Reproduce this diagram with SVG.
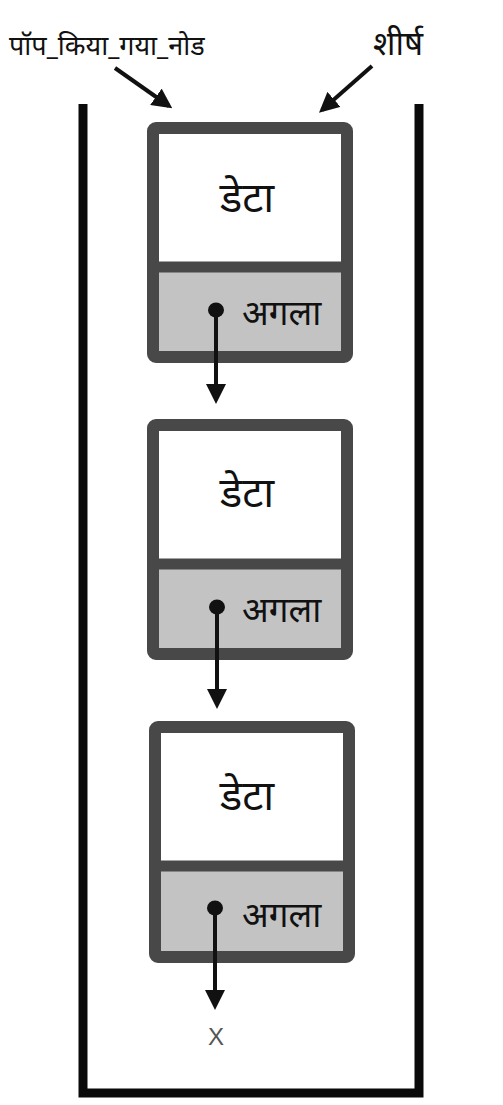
<svg xmlns="http://www.w3.org/2000/svg" width="503" height="1105" viewBox="0 0 503 1105">
<style>
.box{fill:#ffffff;stroke:#484848;stroke-width:12}
.next{fill:#c3c3c3}
.div{stroke:#484848;stroke-width:11}
.t{font-family:"Noto Sans Devanagari","Noto Sans","Lohit Devanagari","FreeSans",sans-serif;fill:#111}
.data{font-size:42px;text-anchor:middle}
.nx{font-size:35px}
.lbl{font-size:27px}
.conn{stroke:#111;stroke-width:4;fill:none}
</style>
<defs>
<marker id="ah" markerWidth="5" markerHeight="5" refX="4" refY="2.5" orient="auto" markerUnits="strokeWidth">
<path d="M0,0 L5,2.5 L0,5 Z" fill="#111"/>
</marker>
</defs>
<rect width="503" height="1105" fill="#fff"/>
<g id="stack">
<path d="M83,104 V1093 H419 V104" fill="none" stroke="#0a0a0a" stroke-width="9"/>
</g>
<g id="node1">
<rect class="box" x="153" y="128" width="194" height="229" rx="3"/>
<rect class="next" x="159" y="267" width="182" height="84"/>
<line class="div" x1="159" y1="267" x2="341" y2="267"/>
<text class="t data" x="247" y="212">डेटा</text>
<text class="t nx" x="242" y="325">अगला</text>
<ellipse cx="216" cy="310" rx="8" ry="7.5" fill="#111"/>
</g>
<g id="node2">
<rect class="box" x="153" y="425" width="194" height="229" rx="3"/>
<rect class="next" x="159" y="564" width="182" height="84"/>
<line class="div" x1="159" y1="564" x2="341" y2="564"/>
<text class="t data" x="247" y="507">डेटा</text>
<text class="t nx" x="242" y="622">अगला</text>
<ellipse cx="217" cy="607" rx="8" ry="7.5" fill="#111"/>
</g>
<g id="node3">
<rect class="box" x="155" y="727" width="194" height="230" rx="3"/>
<rect class="next" x="161" y="866" width="182" height="85"/>
<line class="div" x1="161" y1="866" x2="343" y2="866"/>
<text class="t data" x="247" y="810">डेटा</text>
<text class="t nx" x="242" y="927">अगला</text>
<ellipse cx="215" cy="908" rx="8" ry="7.5" fill="#111"/>
</g>
<g id="labels">
<text class="t lbl" x="9" y="55">पॉप_किया_गया_नोड</text>
<text class="t" x="373" y="55" font-size="33">शीर्ष</text>
<text x="216" y="1045" font-family="Liberation Sans, sans-serif" font-size="24" fill="#555" text-anchor="middle">X</text>
</g>
<g id="connectors">
<line class="conn" x1="115" y1="68" x2="169" y2="106" marker-end="url(#ah)"/>
<line class="conn" x1="372" y1="66" x2="322" y2="110" marker-end="url(#ah)"/>
<line class="conn" x1="216" y1="310" x2="216" y2="400" marker-end="url(#ah)"/>
<line class="conn" x1="217" y1="607" x2="217" y2="705" marker-end="url(#ah)"/>
<line class="conn" x1="215" y1="908" x2="215" y2="1006" marker-end="url(#ah)"/>
</g>
</svg>
